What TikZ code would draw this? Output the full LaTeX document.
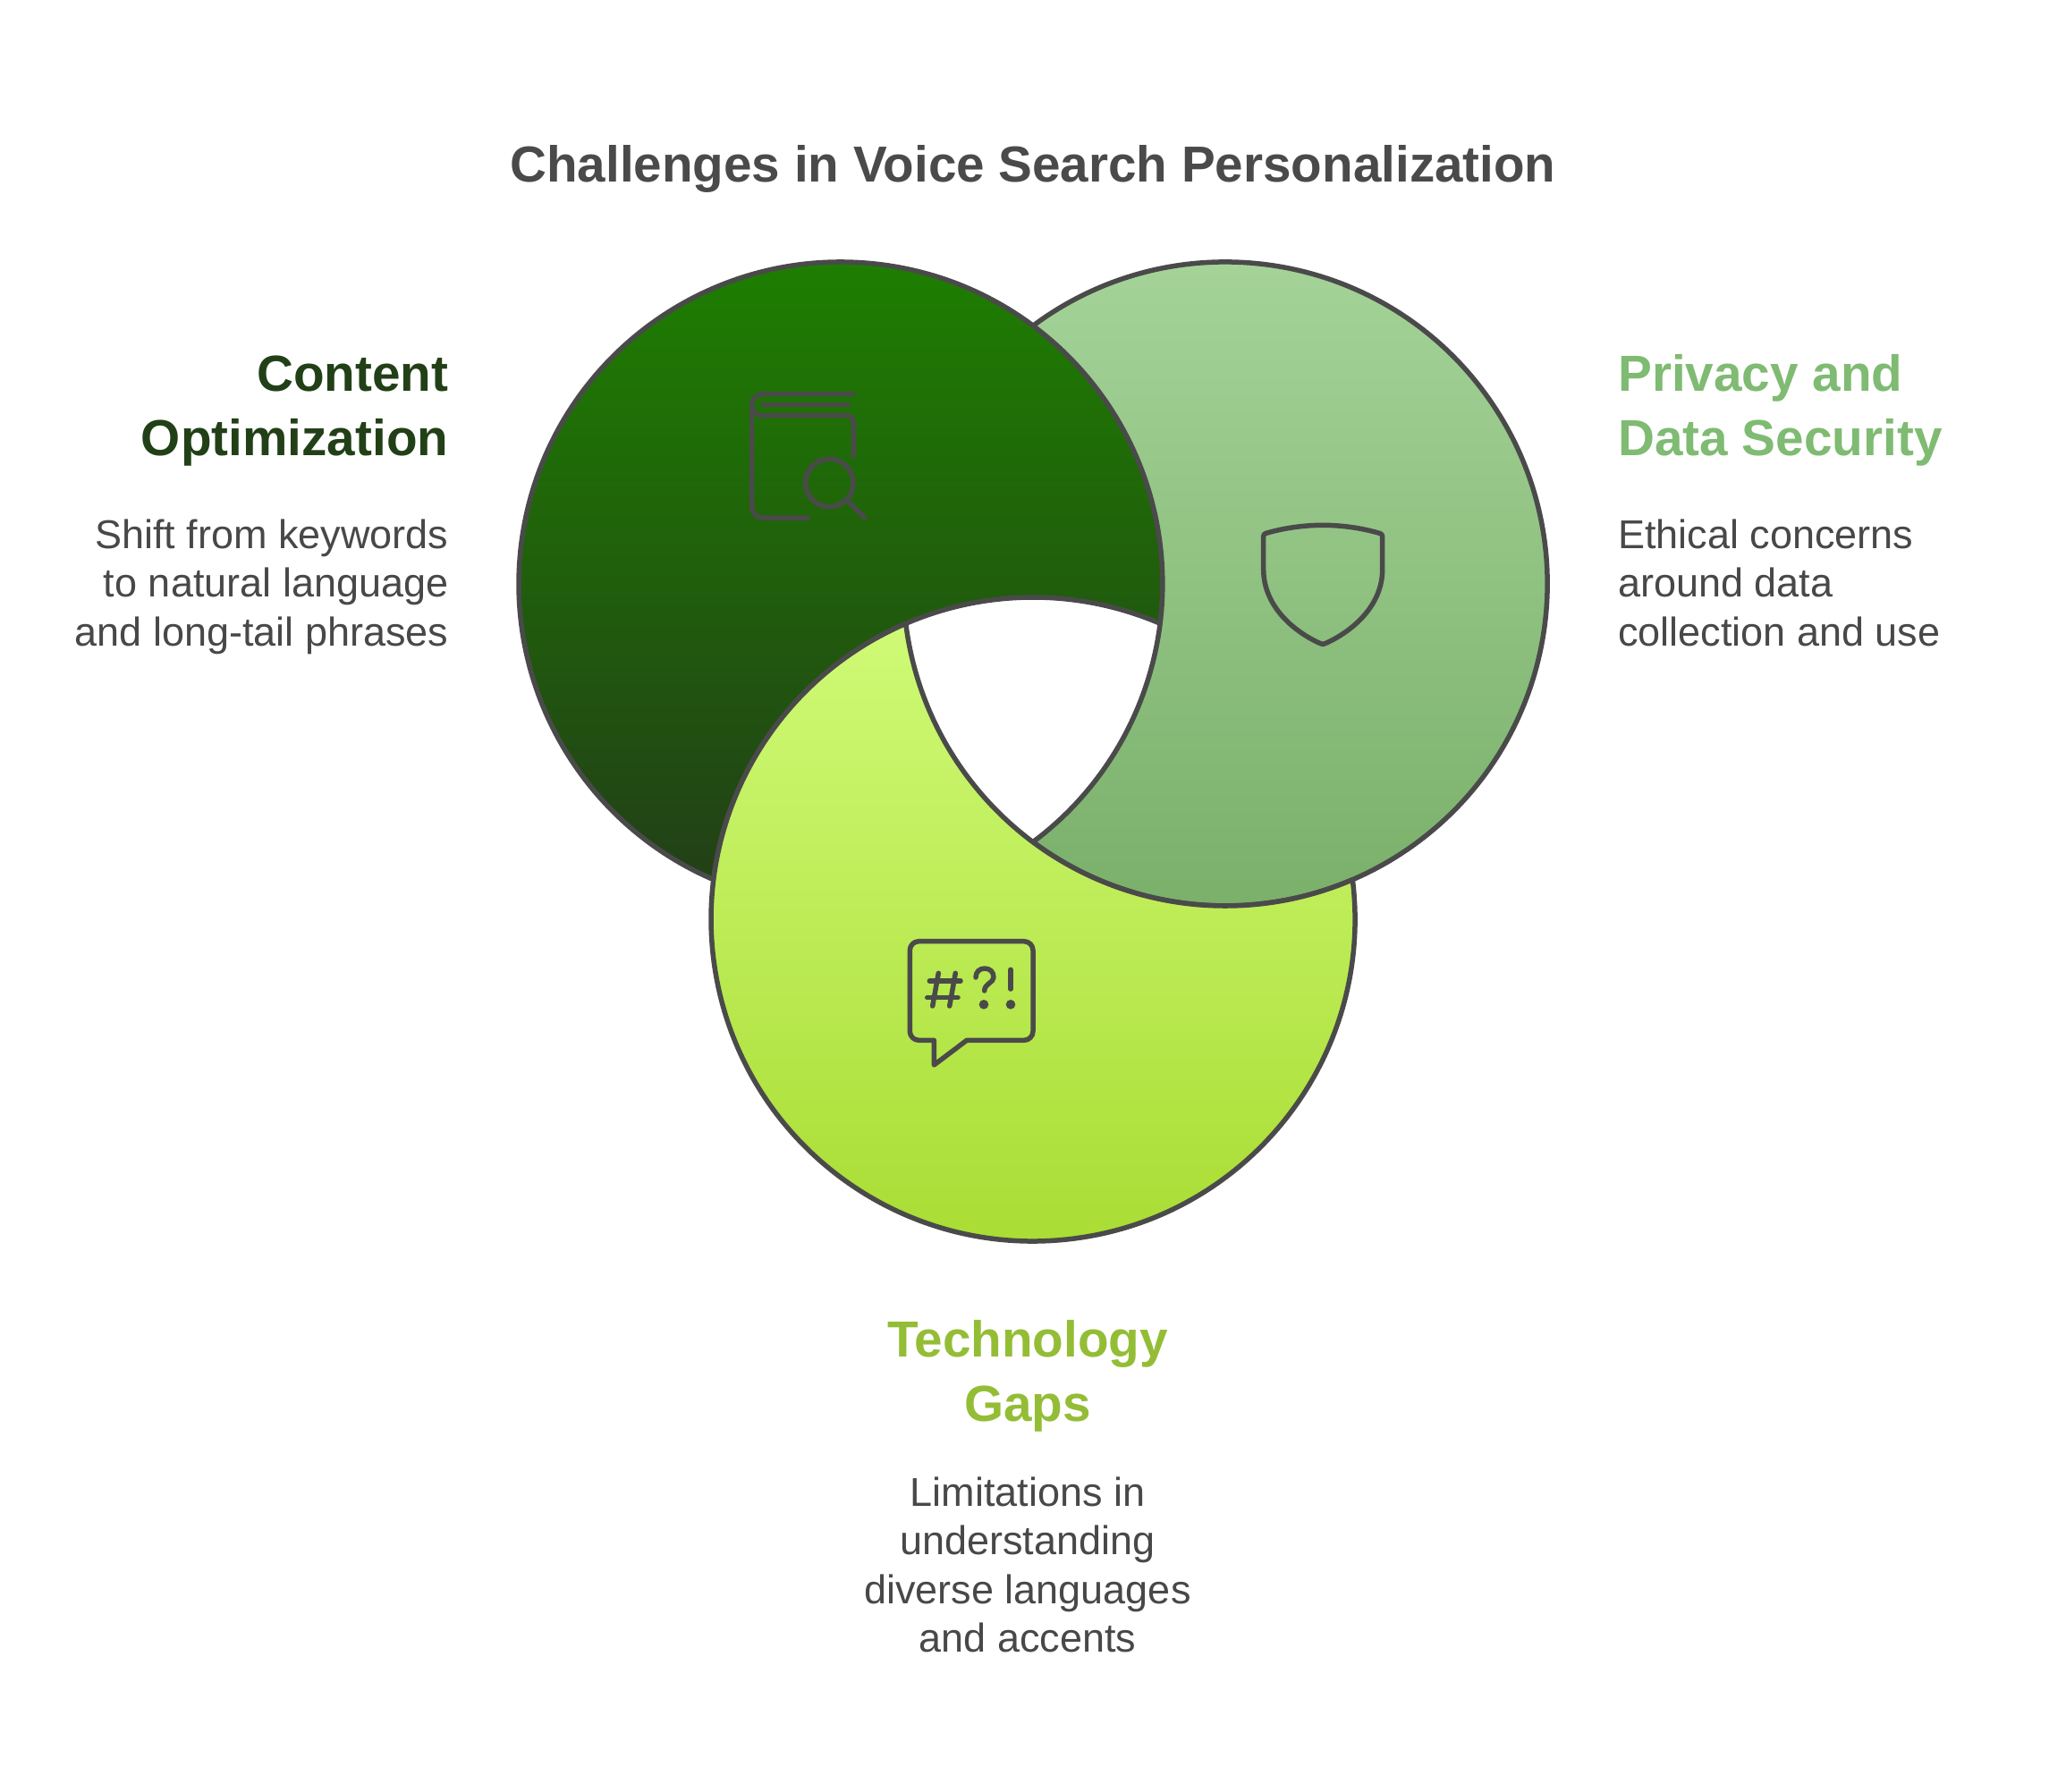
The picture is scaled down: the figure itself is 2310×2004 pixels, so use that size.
\documentclass[tikz,border=0pt]{standalone}
\usepackage{fontspec}
\setmainfont{Liberation Sans}
\definecolor{ink}{HTML}{4A4A4A}
\definecolor{bodyink}{HTML}{484848}
\definecolor{darktop}{HTML}{1E8000}
\definecolor{darkbot}{HTML}{224017}
\definecolor{midtop}{HTML}{A7D59B}
\definecolor{midbot}{HTML}{79AF69}
\definecolor{limetop}{HTML}{CFFA76}
\definecolor{limebot}{HTML}{A8DC32}
\definecolor{midtext}{HTML}{7FBB72}
\definecolor{limetext}{HTML}{94BD36}
\tikzset{
  region/.style={shade, shading=axis, draw=ink, line width=5.5pt, line join=round},
  icon/.style={draw=ink, line width=5.5pt, line cap=round, line join=round},
  titletext/.style={font=\bfseries\fontsize{56.6}{60}\selectfont, text=ink, inner sep=0pt},
  headtext/.style={font=\bfseries\fontsize{56.7}{72}\selectfont, inner sep=0pt},
  bodytext/.style={font=\fontsize{45}{54.5}\selectfont, text=bodyink, inner sep=0pt},
}
\begin{document}
\begin{tikzpicture}[x=1pt,y=-1pt]
\useasboundingbox (0,0) rectangle (2310,2004);
\fill[white] (0,0) rectangle (2310,2004);
% crescents
\path[region, top color=darktop, bottom color=darkbot] (1297.3,697.3)
   arc[start angle=7.07, end angle=-246.72, radius=360]
   arc[start angle=187.07, end angle=293.28, radius=360] -- cycle;
\path[region, top color=midtop, bottom color=midbot] (1155,364.3)
   arc[start angle=-126.7, end angle=126.7, radius=360]
   arc[start angle=53.3, end angle=-53.3, radius=360] -- cycle;
\path[region, top color=limetop, bottom color=limebot] (1512.3,983.7)
   arc[start angle=-7.07, end angle=246.72, radius=360]
   arc[start angle=172.93, end angle=66.72, radius=360] -- cycle;
% book icon
\draw[icon] (953.3,440.7) -- (852.7,440.7) arc[start angle=-90, end angle=-180, radius=12]
   -- (840.7,567) arc[start angle=180, end angle=90, radius=12] -- (903.3,579);
\draw[icon] (840.7,452.7) arc[start angle=180, end angle=90, radius=12] -- (946.7,464.7)
   arc[start angle=-90, end angle=0, radius=7.6] -- (954.3,510);
\draw[icon] (852.7,452.7) -- (948.3,452.7);
\draw[icon] (927.3,540) circle[radius=26.7];
\draw[icon] (948.3,560.7) -- (966.7,579);
% shield icon
\draw[icon] (1479,587.3) .. controls (1458,587.3) and (1435,590.5) .. (1415,596.5)
   .. controls (1413.5,597) and (1412.7,598) .. (1412.7,600) -- (1412.7,636.7)
   .. controls (1412.7,680) and (1450,708) .. (1476,719.5)
   .. controls (1478,720.7) and (1480,720.7) .. (1482,719.5)
   .. controls (1508,708) and (1545.7,680) .. (1545.7,636.7) -- (1545.7,600)
   .. controls (1545.7,598) and (1544.5,597) .. (1543,596.5)
   .. controls (1523,590.5) and (1500,587.3) .. (1479,587.3) -- cycle;
% speech bubble icon
\draw[icon] (1027.3,1052.7) -- (1145,1052.7) arc[start angle=-90, end angle=0, radius=10]
   -- (1155,1153.3) arc[start angle=0, end angle=90, radius=10]
   -- (1081,1163.3) -- (1044.3,1191) -- (1044.3,1163.3) -- (1027.3,1163.3)
   arc[start angle=90, end angle=180, radius=10] -- (1017.3,1062.7)
   arc[start angle=180, end angle=270, radius=10] -- cycle;
\draw[icon] (1039.3,1097) -- (1074,1097);
\draw[icon] (1036.7,1115.7) -- (1071,1115.7);
\draw[icon] (1049.3,1088.3) -- (1042.7,1125);
\draw[icon] (1068.3,1088.3) -- (1061.7,1125);
\draw[icon] (1091,1093) .. controls (1091,1087) and (1095,1083) .. (1101,1083)
   .. controls (1107,1083) and (1111,1087) .. (1111,1093)
   .. controls (1111,1099) and (1100.7,1100) .. (1100.7,1108);
\fill[ink] (1100,1123.3) circle[radius=5.3];
\draw[icon] (1130,1084.3) -- (1130,1106);
\fill[ink] (1130,1123.3) circle[radius=5.3];
% texts
\node[titletext, anchor=base] (title) at (1155,203.5) {Challenges in Voice Search Personalization};
\node[headtext, text=darkbot, anchor=north east, align=right] (contenthead) at (501.5,397.5) {Content\\Optimization};
\node[bodytext, anchor=north east, align=right] (contentbody) at (501.5,580.5) {Shift from keywords\\to natural language\\and long-tail phrases};
\node[headtext, text=midtext, anchor=north west, align=left] (privacyhead) at (1809,396) {Privacy and\\Data Security};
\node[bodytext, anchor=north west, align=left] (privacybody) at (1809,580.5) {Ethical concerns\\around data\\collection and use};
\node[headtext, text=limetext, anchor=north, align=center] (techhead) at (1149,1476.5) {Technology\\Gaps};
\node[bodytext, anchor=north, align=center] (techbody) at (1149,1651.5) {Limitations in\\understanding\\diverse languages\\and accents};
\end{tikzpicture}
\end{document}
